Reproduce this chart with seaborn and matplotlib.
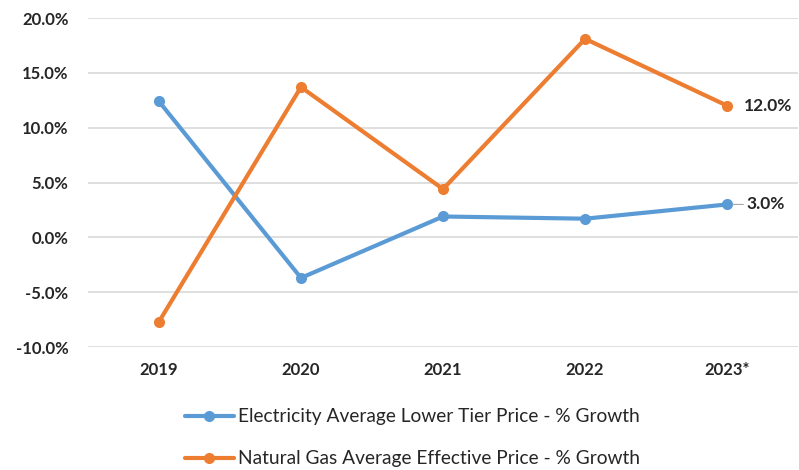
import matplotlib
matplotlib.use("Agg")
import matplotlib.pyplot as plt
import seaborn as sns
import pandas as pd
from matplotlib.ticker import FuncFormatter

# Annual % growth of average energy prices
years = ["2019", "2020", "2021", "2022", "2023*"]
electricity_growth = [12.4, -3.7, 1.9, 1.7, 3.0]
gas_growth = [-7.7, 13.7, 4.4, 18.1, 12.0]
series_names = [
    "Electricity Average Lower Tier Price - % Growth",
    "Natural Gas Average Effective Price - % Growth",
]
colors = ["#5B9BD5", "#ED7D31"]

df = pd.DataFrame({
    "pos": list(range(len(years))) * 2,
    "growth": electricity_growth + gas_growth,
    "series": [series_names[0]] * len(years) + [series_names[1]] * len(years),
})

sns.set_theme(style="white")
plt.rcParams["font.family"] = ["Lato", "DejaVu Sans"]

fig = plt.figure(figsize=(7.99, 4.70), dpi=100)
ax = fig.add_axes([0.110, 0.2617, 0.889, 0.7000])

sns.lineplot(data=df, x="pos", y="growth", hue="series", palette=colors,
             marker="o", markersize=8, markeredgewidth=0, linewidth=3,
             ax=ax, legend=False)

ax.set_xlim(-0.5, len(years) - 0.5)
ax.set_ylim(-10, 20)
ax.set_yticks(range(-10, 21, 5))
ax.yaxis.set_major_formatter(FuncFormatter(lambda v, _: f"{v:.1f}%"))
ax.set_xticks(range(len(years)))
ax.set_xticklabels(years)
ax.grid(axis="y", color="#d9d9d9", linewidth=1.2)
ax.grid(axis="x", visible=False)
ax.set_axisbelow(True)
for s in ax.spines.values():
    s.set_visible(False)
ax.set_xlabel("")
ax.set_ylabel("")
ax.tick_params(axis="both", length=0, labelsize=12, colors="#262626")
ax.tick_params(axis="y", pad=14)
ax.tick_params(axis="x", pad=11)
for lbl in ax.get_xticklabels() + ax.get_yticklabels():
    lbl.set_fontweight("bold")

# value labels on the final year
last = len(years) - 1
ax.annotate(f"{gas_growth[-1]:.1f}%", xy=(last, gas_growth[-1]),
            xytext=(12, 0), textcoords="offset points", va="center",
            fontsize=12.5, fontweight="bold", color="#262626")
ax.annotate(f"{electricity_growth[-1]:.1f}%", xy=(last, electricity_growth[-1]),
            xytext=(14, 0), textcoords="offset points", va="center",
            fontsize=12.5, fontweight="bold", color="#262626",
            arrowprops=dict(arrowstyle="-", color="#a6a6a6", lw=0.8,
                            shrinkA=0, shrinkB=4))

handles = [plt.Line2D([], [], color=c, lw=3, marker="o", markersize=8,
                      markeredgewidth=0) for c in colors]
fig.legend(handles, series_names, loc="upper left",
           bbox_to_anchor=(0.2315, 0.131), frameon=False,
           handlelength=2.55, handletextpad=0.2, labelspacing=1.3,
           prop={"size": 13.8}, labelcolor="#262626", borderaxespad=0,
           borderpad=0)

fig.savefig("out.png", dpi=100)
